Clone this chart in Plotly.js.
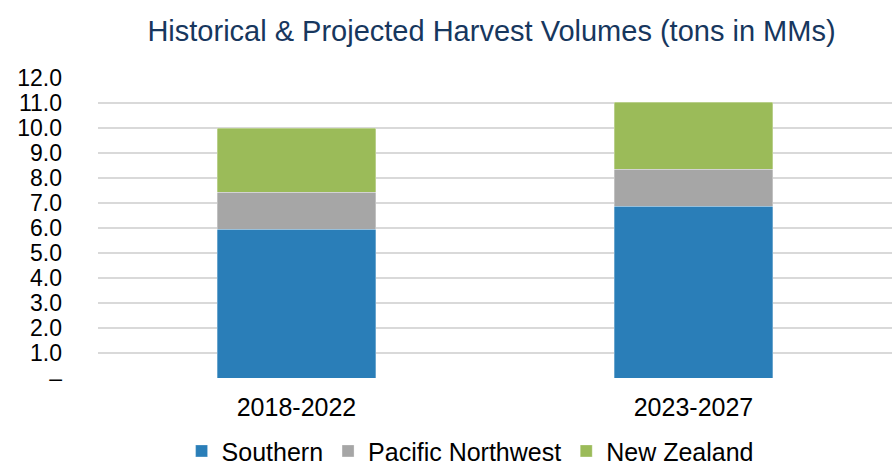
<!DOCTYPE html>
<html>
<head>
<meta charset="utf-8">
<script src="https://cdn.plot.ly/plotly-3.0.1.min.js"></script>
<style>html,body{margin:0;padding:0;background:#fff;overflow:hidden}#chart{width:892px;height:469px}</style>
</head>
<body>
<div id="chart"></div>
<script>
const categories = ["2018-2022", "2023-2027"];
const southern = [5.95, 6.87];
const pacificNorthwest = [1.48, 1.48];
const newZealand = [2.57, 2.69];
const yTickVals = [0, 1, 2, 3, 4, 5, 6, 7, 8, 9, 10, 11, 12];
const yTickText = ["–", "1.0", "2.0", "3.0", "4.0", "5.0", "6.0", "7.0", "8.0", "9.0", "10.0", "11.0", "12.0"];

const font = "Liberation Sans, Arial, sans-serif";
const mk = (name, y, color) => ({
  type: "bar", name: name, x: categories, y: y,
  marker: {color: color, line: {color: "rgba(255,255,255,0.6)", width: 0.5}},
  hoverinfo: "skip"
});
const data = [
  mk("Southern", southern, "#2A7EB8"),
  mk("Pacific Northwest", pacificNorthwest, "#A6A6A6"),
  mk("New Zealand", newZealand, "#9BBB59")
];
const layout = {
  width: 892, height: 469,
  margin: {l: 98, r: 0, t: 78, b: 91, autoexpand: false},
  barmode: "stack", bargap: 0.6,
  paper_bgcolor: "#fff", plot_bgcolor: "#fff",
  font: {family: font, size: 25, color: "#000"},
  title: {text: "Historical & Projected Harvest Volumes (tons in MMs)", xref: "container", x: 0.551, xanchor: "center",
          yref: "container", y: 0.935, yanchor: "middle",
          font: {family: font, size: 29, color: "#17375E"}},
  xaxis: {type: "category", showgrid: false, zeroline: false, showline: false, ticks: "",
          tickfont: {family: font, size: 25, color: "#000"}, ticklabelstandoff: 12},
  yaxis: {range: [0, 12], tickvals: yTickVals, ticktext: yTickText, showgrid: true,
          gridcolor: "#D9D9D9", gridwidth: 2, zeroline: false, showline: false, ticks: "",
          tickfont: {family: font, size: 23, color: "#000"}, ticklabelstandoff: 35},
  legend: {orientation: "h", xref: "container", x: 0.527, xanchor: "center",
           yref: "container", y: 0.038, yanchor: "middle",
           font: {family: font, size: 25, color: "#000"}, traceorder: "normal", itemwidth: 30},
  showlegend: true
};
Plotly.newPlot("chart", data, layout, {displayModeBar: false, staticPlot: true});
</script>
</body>
</html>
